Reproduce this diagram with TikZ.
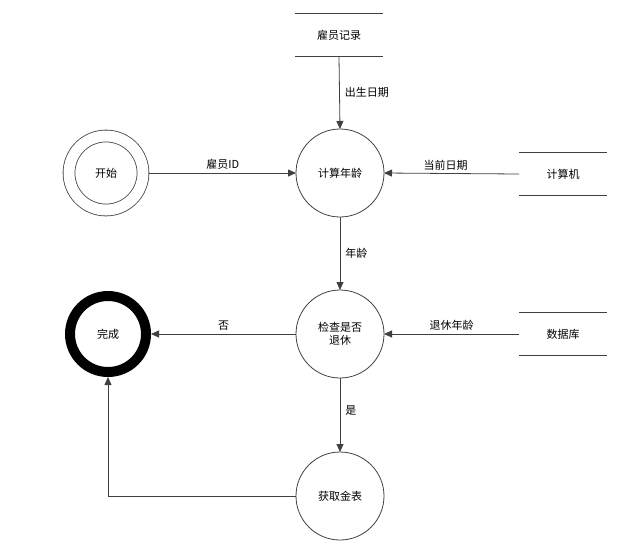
\documentclass[tikz,border=0pt]{standalone}
\usepackage{fontspec}
\setmainfont{Noto Sans CJK SC}
\usetikzlibrary{arrows.meta}
\usetikzlibrary{positioning}

\begin{document}
\begin{tikzpicture}[x=1pt,y=-1pt,->,>={Triangle[length=8pt,width=7pt]},
	draw=black!75,line width=0.8pt,
	every node/.style={font=\fontsize{11}{13}\selectfont},
	proc/.style={draw,circle,minimum size=88pt,inner sep=1pt,align=center,outer sep=0pt},
	store/.style={minimum width=88pt,minimum height=43pt,inner sep=0pt,outer sep=0pt},
	lbl/.style={text=black,inner sep=3pt}]
	\useasboundingbox (0,0) rectangle (631,542);
	% data stores
	\node[store] (rec) at (339,35) {雇员记录};
	\node[store] (pc) at (563,174) {计算机};
	\node[store] (db) at (563,334) {数据库};
	\foreach \s in {rec,pc,db}
		\draw[-] (\s.north west) -- (\s.north east) (\s.south west) -- (\s.south east);
	% processes
	\node[proc] (calc) at (340,173) {计算年龄};
	\node[proc] (check) at (340,334) {检查是否\\退休};
	\node[proc] (gold) at (340,496) {获取金表};
	\node[draw,circle,minimum size=74pt,double,double distance=11pt,outer sep=6.4pt] (start) at (106,173) {开始};
	\node[draw,circle,minimum size=76pt,line width=10pt,draw=black,outer sep=5pt] (done) at (108,334) {完成};
	% flows
	\draw (start) -- node[lbl,above] {雇员ID} (calc);
	\draw (rec.south) -- node[lbl,right,xshift=2pt] {出生日期} (calc.north);
	\draw (pc.west) -- node[lbl,above,xshift=-6pt] {当前日期} (calc.east);
	\draw (calc) -- node[lbl,right,xshift=2pt] {年龄} (check);
	\draw (db.west) -- node[lbl,above] {退休年龄} (check.east);
	\draw (check) -- node[lbl,above] {否} (done);
	\draw (check) -- node[lbl,right,xshift=2pt,yshift=4pt] {是} (gold);
	\draw (gold.west) -| (done.south);
\end{tikzpicture}
\end{document}
